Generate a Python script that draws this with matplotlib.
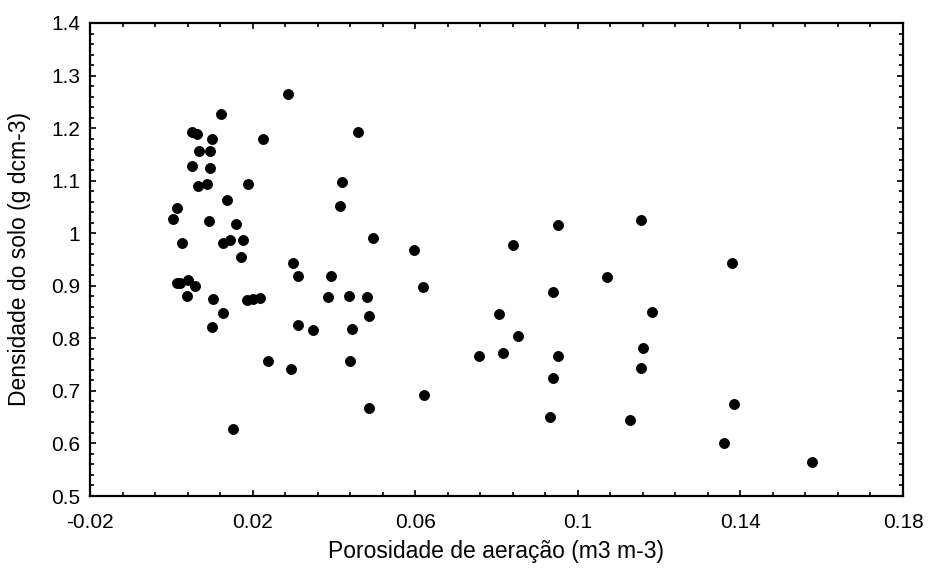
import numpy as np
import matplotlib
matplotlib.use("Agg")
import matplotlib.pyplot as plt
from matplotlib.ticker import FixedLocator, MultipleLocator

# Porosidade de aeração (m3 m-3) e densidade do solo (g dcm-3)
porosidade = [
    0.0286, 0.0122, 0.0050, 0.0064, 0.0099, 0.0226, 0.0069, 0.0095,
    0.0052, 0.0094, 0.0066, 0.0089, 0.0189, 0.0136, 0.0015, 0.0003,
    0.0093, 0.0159, 0.0026, 0.0128, 0.0144, 0.0177, 0.0172, 0.0300,
    0.0311, 0.0021, 0.0042, 0.0058, 0.0014, 0.0038, 0.0103, 0.0186,
    0.0200, 0.0218, 0.0128, 0.0099, 0.0311, 0.0421, 0.0415, 0.0496,
    0.0392, 0.0385, 0.0438, 0.0481, 0.0487, 0.0349, 0.0445, 0.0239,
    0.0294, 0.0440, 0.0153, 0.0619, 0.0807, 0.0854, 0.0758, 0.0817,
    0.0952, 0.0940, 0.0940, 0.0622, 0.0487, 0.0932, 0.1128, 0.0459,
    0.0598, 0.0841, 0.0951, 0.1072, 0.1155, 0.1379, 0.1183, 0.1160,
    0.1156, 0.1384, 0.1360, 0.1577,
]
densidade = [
    1.264, 1.226, 1.193, 1.189, 1.179, 1.179, 1.156, 1.156,
    1.127, 1.124, 1.090, 1.093, 1.093, 1.063, 1.048, 1.027,
    1.023, 1.017, 0.981, 0.981, 0.988, 0.988, 0.955, 0.944,
    0.918, 0.905, 0.911, 0.900, 0.905, 0.881, 0.874, 0.873,
    0.874, 0.877, 0.848, 0.822, 0.825, 1.098, 1.051, 0.990,
    0.919, 0.878, 0.881, 0.878, 0.842, 0.816, 0.817, 0.756,
    0.741, 0.757, 0.627, 0.897, 0.846, 0.804, 0.766, 0.772,
    0.766, 0.888, 0.725, 0.692, 0.668, 0.651, 0.645, 1.193,
    0.968, 0.978, 1.016, 0.916, 1.025, 0.944, 0.851, 0.781,
    0.743, 0.676, 0.601, 0.564,
]

x_ticks = [-0.02, 0.02, 0.06, 0.1, 0.14, 0.18]
y_ticks = [0.5, 0.6, 0.7, 0.8, 0.9, 1.0, 1.1, 1.2, 1.3, 1.4]

plt.rcParams['font.family'] = ['Liberation Sans', 'DejaVu Sans']

fig = plt.figure(figsize=(9.31, 5.71), dpi=100)
ax = fig.add_axes([90 / 931, 1 - 496 / 571, 813 / 931, 473 / 571])

ax.scatter(porosidade, densidade, s=52, c='black', edgecolors='black',
           linewidths=0.6, zorder=3)

ax.set_xlim(-0.02, 0.18)
ax.set_ylim(0.5, 1.4)

ax.xaxis.set_major_locator(FixedLocator(x_ticks))
ax.xaxis.set_minor_locator(FixedLocator(np.arange(-0.02, 0.1801, 0.008)))
ax.yaxis.set_major_locator(FixedLocator(y_ticks))
ax.yaxis.set_minor_locator(MultipleLocator(0.02))
ax.set_xticklabels([f"{v:g}" for v in x_ticks])
ax.set_yticklabels([f"{v:g}" for v in y_ticks])

ax.tick_params(which='both', direction='in', top=True, right=True,
               width=1.2, labelsize=15, color='black')
ax.tick_params(which='major', length=4)
ax.tick_params(which='minor', length=3)
ax.tick_params(axis='x', which='major', pad=12)
ax.tick_params(axis='y', which='major', pad=7)

for sp in ax.spines.values():
    sp.set_linewidth(1.6)
    sp.set_color('black')

ax.set_xlabel('Porosidade de aeração (m3 m-3)', fontsize=16.5)
ax.set_ylabel('Densidade do solo (g dcm-3)', fontsize=16.5)
ax.xaxis.set_label_coords(0.5, -0.093)
ax.yaxis.set_label_coords(-0.073, 0.5)

fig.savefig('out.png', dpi=100, facecolor='white')
